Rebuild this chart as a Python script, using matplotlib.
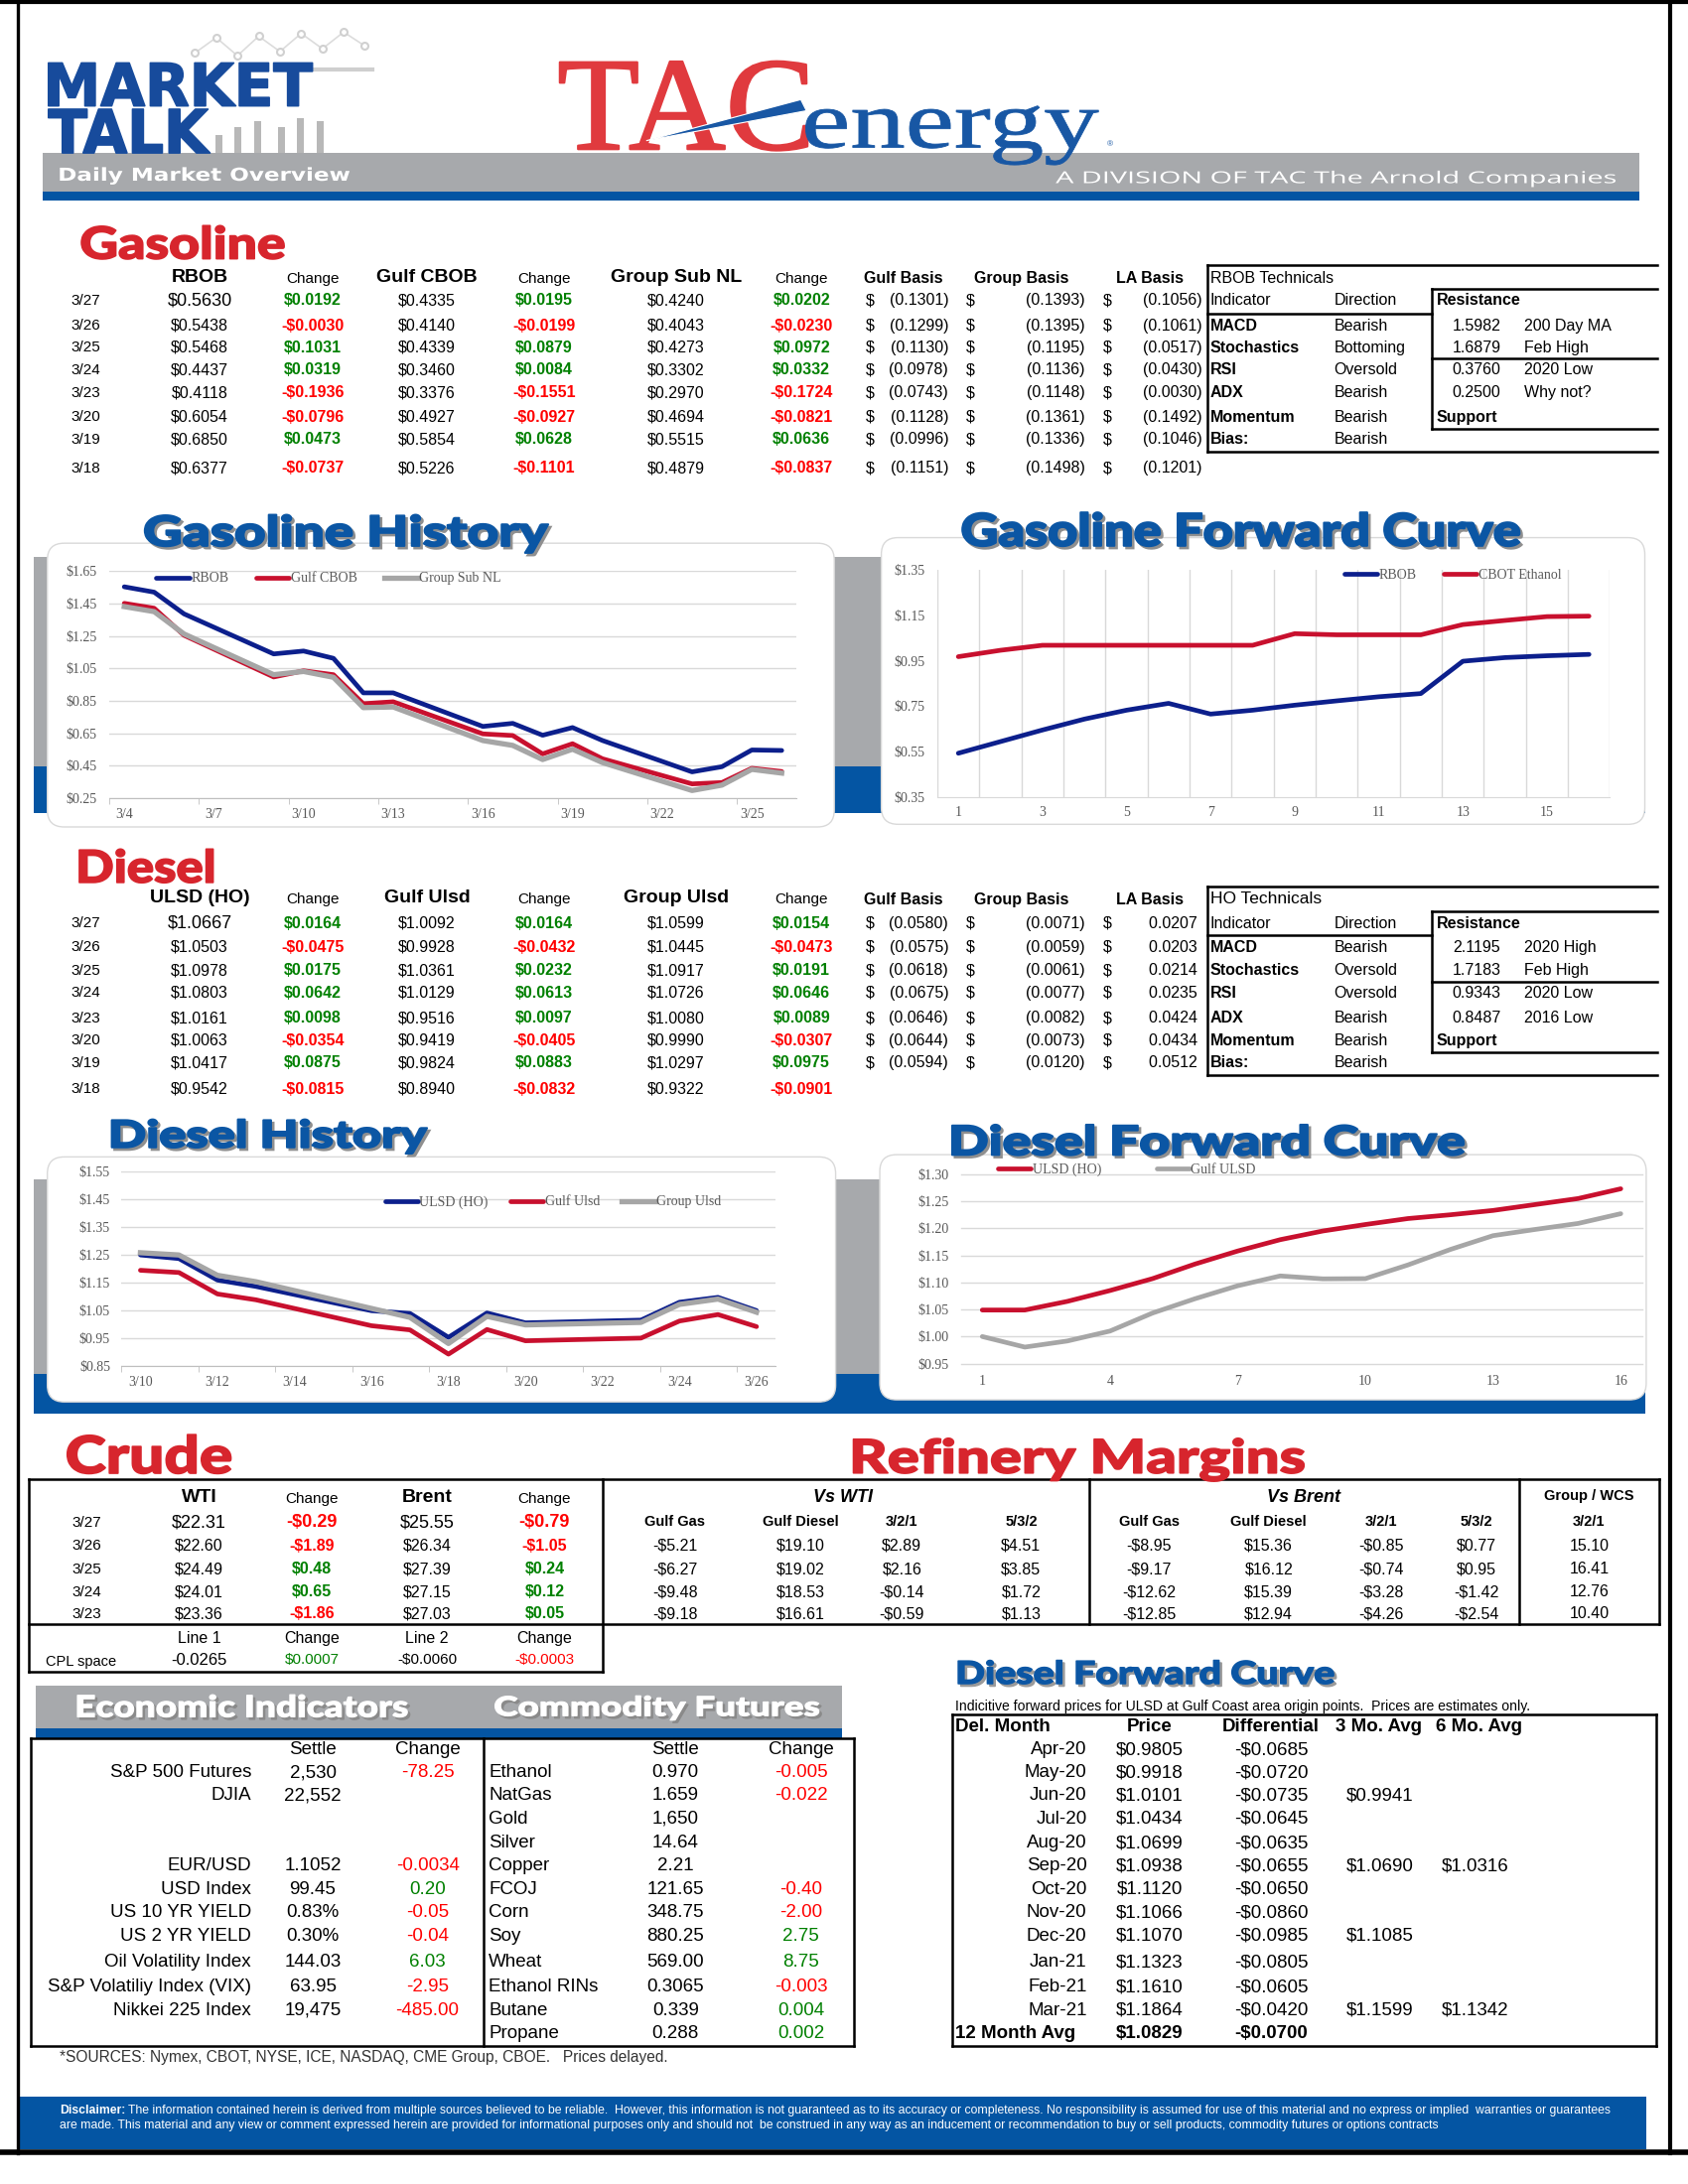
import numpy as np
import pandas as pd
import matplotlib
matplotlib.use('Agg')
import matplotlib.pyplot as plt
import matplotlib.dates as mdates
from matplotlib.patches import Rectangle, FancyBboxPatch, PathPatch, Polygon
from matplotlib.textpath import TextPath
from matplotlib.transforms import Affine2D
from matplotlib.font_manager import FontProperties
from matplotlib.ticker import FuncFormatter

# ---------------------------------------------------------------- data
gas_dates = ['3/27', '3/26', '3/25', '3/24', '3/23', '3/20', '3/19', '3/18']
rbob_px = [0.5630, 0.5438, 0.5468, 0.4437, 0.4118, 0.6054, 0.6850, 0.6377]
rbob_chg = [0.0192, -0.0030, 0.1031, 0.0319, -0.1936, -0.0796, 0.0473, -0.0737]
cbob_px = [0.4335, 0.4140, 0.4339, 0.3460, 0.3376, 0.4927, 0.5854, 0.5226]
cbob_chg = [0.0195, -0.0199, 0.0879, 0.0084, -0.1551, -0.0927, 0.0628, -0.1101]
subnl_px = [0.4240, 0.4043, 0.4273, 0.3302, 0.2970, 0.4694, 0.5515, 0.4879]
subnl_chg = [0.0202, -0.0230, 0.0972, 0.0332, -0.1724, -0.0821, 0.0636, -0.0837]
gas_gulf_basis = [-0.1301, -0.1299, -0.1130, -0.0978, -0.0743, -0.1128, -0.0996, -0.1151]
gas_group_basis = [-0.1393, -0.1395, -0.1195, -0.1136, -0.1148, -0.1361, -0.1336, -0.1498]
gas_la_basis = [-0.1056, -0.1061, -0.0517, -0.0430, -0.0030, -0.1492, -0.1046, -0.1201]

dsl_dates = gas_dates
ulsd_px = [1.0667, 1.0503, 1.0978, 1.0803, 1.0161, 1.0063, 1.0417, 0.9542]
ulsd_chg = [0.0164, -0.0475, 0.0175, 0.0642, 0.0098, -0.0354, 0.0875, -0.0815]
gulf_ulsd_px = [1.0092, 0.9928, 1.0361, 1.0129, 0.9516, 0.9419, 0.9824, 0.8940]
gulf_ulsd_chg = [0.0164, -0.0432, 0.0232, 0.0613, 0.0097, -0.0405, 0.0883, -0.0832]
grp_ulsd_px = [1.0599, 1.0445, 1.0917, 1.0726, 1.0080, 0.9990, 1.0297, 0.9322]
grp_ulsd_chg = [0.0154, -0.0473, 0.0191, 0.0646, 0.0089, -0.0307, 0.0975, -0.0901]
dsl_gulf_basis = [-0.0580, -0.0575, -0.0618, -0.0675, -0.0646, -0.0644, -0.0594]
dsl_group_basis = [-0.0071, -0.0059, -0.0061, -0.0077, -0.0082, -0.0073, -0.0120]
dsl_la_basis = [0.0207, 0.0203, 0.0214, 0.0235, 0.0424, 0.0434, 0.0512]

tech_ind = ['MACD', 'Stochastics', 'RSI', 'ADX', 'Momentum', 'Bias:']
rbob_dir = ['Bearish', 'Bottoming', 'Oversold', 'Bearish', 'Bearish', 'Bearish']
rbob_levels = [1.5982, 1.6879, 0.3760, 0.2500]
rbob_level_lbl = ['200 Day MA', 'Feb High', '2020 Low', 'Why not?']
ho_dir = ['Bearish', 'Oversold', 'Oversold', 'Bearish', 'Bearish', 'Bearish']
ho_levels = [2.1195, 1.7183, 0.9343, 0.8487]
ho_level_lbl = ['2020 High', 'Feb High', '2020 Low', '2016 Low']

gh_dates = pd.to_datetime(['2020-03-04', '2020-03-05', '2020-03-06', '2020-03-09', '2020-03-10',
                           '2020-03-11', '2020-03-12', '2020-03-13', '2020-03-16', '2020-03-17',
                           '2020-03-18', '2020-03-19', '2020-03-20', '2020-03-23', '2020-03-24',
                           '2020-03-25', '2020-03-26'])
gh_rbob = [1.553, 1.520, 1.386, 1.139, 1.157, 1.112, 0.899, 0.899, 0.692, 0.711,
           0.6377, 0.6850, 0.6054, 0.4118, 0.4437, 0.5468, 0.5438]
gh_cbob = [1.451, 1.421, 1.254, 0.997, 1.035, 1.011, 0.832, 0.844, 0.646, 0.636,
           0.5226, 0.5854, 0.4927, 0.3376, 0.3460, 0.4339, 0.4140]
gh_subnl = [1.431, 1.400, 1.262, 1.011, 1.031, 0.995, 0.808, 0.812, 0.605, 0.575,
            0.4879, 0.5515, 0.4694, 0.2970, 0.3302, 0.4273, 0.4043]

gf_month = np.arange(1, 17)
gf_rbob = [0.544, 0.595, 0.646, 0.694, 0.733, 0.763, 0.716, 0.733,
           0.755, 0.774, 0.792, 0.806, 0.948, 0.964, 0.972, 0.978]
gf_ethanol = [0.968, 0.996, 1.018, 1.018, 1.018, 1.018, 1.018, 1.018,
              1.069, 1.064, 1.064, 1.064, 1.109, 1.127, 1.144, 1.146]

dh_dates = pd.to_datetime(['2020-03-10', '2020-03-11', '2020-03-12', '2020-03-13', '2020-03-16',
                           '2020-03-17', '2020-03-18', '2020-03-19', '2020-03-20', '2020-03-23',
                           '2020-03-24', '2020-03-25', '2020-03-26'])
dh_ulsd = [1.250, 1.237, 1.160, 1.137, 1.050, 1.040, 0.9542, 1.0417, 1.0063, 1.0161, 1.0803, 1.0978, 1.0503]
dh_gulf = [1.195, 1.187, 1.110, 1.089, 0.996, 0.981, 0.8940, 0.9824, 0.9419, 0.9516, 1.0129, 1.0361, 0.9928]
dh_group = [1.258, 1.250, 1.177, 1.154, 1.058, 1.026, 0.9322, 1.0297, 0.9990, 1.0080, 1.0726, 1.0917, 1.0445]

df_month = np.arange(1, 17)
df_ulsd = [1.049, 1.049, 1.065, 1.085, 1.107, 1.134, 1.158, 1.179,
           1.195, 1.207, 1.218, 1.225, 1.233, 1.244, 1.255, 1.273]
df_gulf = [1.000, 0.9805, 0.9918, 1.0101, 1.0434, 1.0699, 1.0938, 1.1120,
           1.1066, 1.1070, 1.1323, 1.1610, 1.1864, 1.198, 1.209, 1.227]

crude_dates = ['3/27', '3/26', '3/25', '3/24', '3/23']
wti = [22.31, 22.60, 24.49, 24.01, 23.36]
wti_chg = [-0.29, -1.89, 0.48, 0.65, -1.86]
brent = [25.55, 26.34, 27.39, 27.15, 27.03]
brent_chg = [-0.79, -1.05, 0.24, 0.12, 0.05]
cpl_line1, cpl_line1_chg, cpl_line2, cpl_line2_chg = -0.0265, 0.0007, -0.0060, -0.0003

rm_cols = ['Gulf Gas', 'Gulf Diesel', '3/2/1', '5/3/2']
rm_wti = [[-5.21, -6.27, -9.48, -9.18], [19.10, 19.02, 18.53, 16.61],
          [2.89, 2.16, -0.14, -0.59], [4.51, 3.85, 1.72, 1.13]]
rm_brent = [[-8.95, -9.17, -12.62, -12.85], [15.36, 16.12, 15.39, 12.94],
            [-0.85, -0.74, -3.28, -4.26], [0.77, 0.95, -1.42, -2.54]]
rm_wcs = [15.10, 16.41, 12.76, 10.40]

econ_names = ['S&P 500 Futures', 'DJIA', '', '', 'EUR/USD', 'USD Index', 'US 10 YR YIELD',
              'US 2 YR YIELD', 'Oil Volatility Index', 'S&P Volatiliy Index (VIX)', 'Nikkei 225 Index']
econ_settle = ['2,530', '22,552', '', '', '1.1052', '99.45', '0.83%', '0.30%', '144.03', '63.95', '19,475']
econ_chg = ['-78.25', '', '', '', '-0.0034', '0.20', '-0.05', '-0.04', '6.03', '-2.95', '-485.00']
comm_names = ['Ethanol', 'NatGas', 'Gold', 'Silver', 'Copper', 'FCOJ', 'Corn', 'Soy', 'Wheat',
              'Ethanol RINs', 'Butane', 'Propane']
comm_settle = ['0.970', '1.659', '1,650', '14.64', '2.21', '121.65', '348.75', '880.25', '569.00',
               '0.3065', '0.339', '0.288']
comm_chg = ['-0.005', '-0.022', '', '', '', '-0.40', '-2.00', '2.75', '8.75', '-0.003', '0.004', '0.002']

fwd_months = ['Apr-20', 'May-20', 'Jun-20', 'Jul-20', 'Aug-20', 'Sep-20', 'Oct-20', 'Nov-20',
              'Dec-20', 'Jan-21', 'Feb-21', 'Mar-21']
fwd_price = [0.9805, 0.9918, 1.0101, 1.0434, 1.0699, 1.0938, 1.1120, 1.1066, 1.1070, 1.1323, 1.1610, 1.1864]
fwd_diff = [-0.0685, -0.0720, -0.0735, -0.0645, -0.0635, -0.0655, -0.0650, -0.0860, -0.0985,
            -0.0805, -0.0605, -0.0420]
fwd_3mo = {2: 0.9941, 5: 1.0690, 8: 1.1085, 11: 1.1599}
fwd_6mo = {5: 1.0316, 11: 1.1342}
fwd_avg_price, fwd_avg_diff = 1.0829, -0.0700

# ---------------------------------------------------------------- style
W, H = 1212, 1568           # layout grid, page is 1700x2200 px
SANS = ['Liberation Sans', 'DejaVu Sans']
SERIF = ['Liberation Serif', 'DejaVu Serif']
plt.rcParams['font.family'] = SERIF
RED_T = '#d7252d'
BLUE_T = '#0b56a4'
NAVY = '#0c1f8c'
LRED = '#c8102e'
LGRAY = '#a6a6a6'
GREEN = '#008000'
BRIGHT_RED = '#ff0000'
BANNER_GRAY = '#a7a9ac'
BANNER_BLUE = '#0455a3'
HEAVY = FontProperties(family='Lato', weight='black')

fig = plt.figure(figsize=(17, 22), dpi=100)
bg = fig.add_axes([0, 0, 1, 1])
bg.set_xlim(0, W)
bg.set_ylim(H, 0)
bg.axis('off')
bg.set_zorder(0)
renderer = fig.canvas.get_renderer()


def R(x0, y0, x1, y1):
    return [x0 / W, 1 - y1 / H, (x1 - x0) / W, (y1 - y0) / H]


def txt(x, y, s, ha='center', size=11.5, weight='normal', color='black', style='normal', family=SANS):
    return bg.text(x, y, s, ha=ha, va='center', fontsize=size, fontweight=weight, color=color,
                   fontstyle=style, family=family, zorder=6)


def boxed(s, x0, x1, ytop, ybot, color, prop, shadow=None, stroke=0, z=5):
    tp = TextPath((0, 0), s, size=100, prop=prop)
    e = tp.get_extents()
    tr = Affine2D().translate(-e.x0, -e.y0).scale((x1 - x0) / e.width, -(ybot - ytop) / e.height)
    p = tr.translate(x0, ybot).transform_path(tp)
    if shadow:
        ps = Affine2D().translate(1.8, 1.8).transform_path(p)
        bg.add_patch(PathPatch(ps, fc=shadow, ec=shadow, lw=stroke, zorder=z - 0.5))
    bg.add_patch(PathPatch(p, fc=color, ec=color if stroke else 'none', lw=stroke,
                           joinstyle='round', zorder=z))


def hline(y, x0, x1, lw=1.8):
    bg.plot([x0, x1], [y, y], color='black', lw=lw, solid_capstyle='projecting', zorder=4)


def vline(x, y0, y1, lw=1.8):
    bg.plot([x, x], [y0, y1], color='black', lw=lw, solid_capstyle='projecting', zorder=4)


def money(v, nd=4):
    return ('$%.*f' % (nd, v)) if v >= 0 else ('-$%.*f' % (nd, -v))


def chg_color(v):
    return GREEN if v >= 0 else BRIGHT_RED


# ---------------------------------------------------------------- page frame and header
hline(1.5, 0, W, lw=3)
vline(12.5, 0, 1546, lw=2.4)
vline(1199, 0, 1546, lw=3)
hline(1545, 0, W, lw=4)

bg.add_patch(Rectangle((31, 110), 1146, 27.5, fc=BANNER_GRAY, ec='none', zorder=1))
bg.add_patch(Rectangle((31, 137.5), 1146, 6.3, fc=BANNER_BLUE, ec='none', zorder=1))

# MARKET TALK logo decoration
bg.plot([225, 267], [50, 50], color='#cfcfcf', lw=3, zorder=2)
for bx, btop in [(157, 97), (171, 91.5), (185, 87), (202, 91.5), (216, 84.5), (230, 87)]:
    bg.add_patch(Rectangle((bx - 2.5, btop), 5, 110 - btop, fc='#b8b8b8', ec='none', zorder=2))
zx = np.linspace(140, 262, 9)
zy = [38, 27, 40, 26, 37, 24, 35, 23, 33]
bg.plot(zx, zy, color='#dcdcdc', lw=1.2, marker='o', ms=5, mfc='white', mec='#d0d0d0', mew=1.5, zorder=2)
boxed('MARKET', 34.8, 224.3, 45.2, 76, '#174b9c', FontProperties(family='DejaVu Sans', weight='bold'), stroke=1.2)
boxed('TALK', 34.8, 150.8, 78.4, 109.8, '#174b9c', FontProperties(family='DejaVu Sans', weight='bold'), stroke=1.2)

boxed('TAC', 402, 580, 44, 108, '#e03a3e', FontProperties(family='Liberation Serif'), stroke=1.6)
boxed('energy', 578.5, 788.7, 76, 118.4, '#1857a4', FontProperties(family='Liberation Serif'), stroke=0.6)
bg.add_patch(Polygon([(464, 101), (575, 71.5), (579, 79.5)], closed=True, fc='#1857a4', ec='white',
                     lw=0.8, zorder=6))
txt(797, 104, '®', size=6, color='#1857a4')
boxed('Daily Market Overview', 43, 251, 120, 132.5, 'white', FontProperties(family='DejaVu Sans', weight='bold'))
boxed('A DIVISION OF TAC The Arnold Companies', 758, 1160, 122.5, 134.3, 'white',
      FontProperties(family='Open Sans'))

# ---------------------------------------------------------------- price tables
PX_X = [143.3, 306.6, 485.6]
CH_X = [224.4, 390.7, 575.5]
BASIS_HDR_X = [648.6, 733.2, 825.6]
BASIS_DOLLAR_X = [621.4, 693.3, 792]
BASIS_RIGHT_X = [681, 779, 863]


def price_block(header_y, rows_y, dates, names, prices, changes, basis, tech_title, directions,
                levels, level_lbl, tech_size):
    for x, n in zip(PX_X, names):
        txt(x, header_y, n, size=14, weight='bold')
    for x in CH_X:
        txt(x, header_y + 1, 'Change', size=11)
    for x, n in zip(BASIS_HDR_X, ['Gulf Basis', 'Group Basis', 'LA Basis']):
        txt(x, header_y + 1, n, size=11.5, weight='bold')
    for i, (d, y) in enumerate(zip(dates, rows_y)):
        txt(51, y, d, ha='left', size=11)
        for x, col in zip(PX_X, prices):
            if i == 0 and x == PX_X[0]:
                txt(x, y, money(col[i]), size=13)
            else:
                txt(x, y, money(col[i]), size=11.5)
        for x, col in zip(CH_X, changes):
            txt(x, y, money(col[i]), size=11.5, weight='bold', color=chg_color(col[i]))
    for k, col in enumerate(basis):
        for v, y in zip(col, rows_y):
            txt(BASIS_DOLLAR_X[k], y, '$', ha='left', size=11.5)
            s = '(%.4f)' % -v if v < 0 else '%.4f ' % v
            txt(BASIS_RIGHT_X[k], y, s, ha='right', size=11.5)
    # technicals box
    xl, xr, xres = 866.7, 1190, 1027.8
    top = header_y - 8.8
    res_top = (header_y + rows_y[0]) / 2
    ind_line = (rows_y[0] + rows_y[1]) / 2
    sep = (rows_y[2] + rows_y[3]) / 2
    res_bot = rows_y[5] + 8.2
    bot = rows_y[6] + 8.8
    hline(top, xl, xr)
    vline(xl, top, bot)
    hline(bot, xl, xr)
    hline(res_top, xres, xr)
    vline(xres, res_top, res_bot)
    hline(res_bot, xres, xr)
    hline(sep, xres, xr)
    hline(ind_line, xl, xres)
    txt(869, header_y + 0.5, tech_title, ha='left', size=tech_size)
    txt(869, rows_y[0], 'Indicator', ha='left', size=11.5)
    txt(958, rows_y[0], 'Direction', ha='left', size=11.5)
    txt(1031.5, rows_y[0], 'Resistance', ha='left', size=11.5, weight='bold')
    for j, (ind, dr) in enumerate(zip(tech_ind, directions)):
        txt(869, rows_y[j + 1], ind, ha='left', size=11.5, weight='bold')
        txt(958, rows_y[j + 1], dr, ha='left', size=11.5)
    for j, (lv, lb) in enumerate(zip(levels, level_lbl)):
        txt(1077.5, rows_y[j + 1], '%.4f' % lv, ha='right', size=11.5)
        txt(1094.2, rows_y[j + 1], lb, ha='left', size=11.5)
    txt(1031.5, rows_y[5], 'Support', ha='left', size=11.5, weight='bold')


boxed('Gasoline', 58.5, 204, 162, 186, RED_T, HEAVY, stroke=1.2)
price_block(199.2, [215.8, 234, 249.5, 265.5, 282, 299.5, 315.6, 336.3], gas_dates,
            ['RBOB', 'Gulf CBOB', 'Group Sub NL'], [rbob_px, cbob_px, subnl_px],
            [rbob_chg, cbob_chg, subnl_chg], [gas_gulf_basis, gas_group_basis, gas_la_basis],
            'RBOB Technicals', rbob_dir, rbob_levels, rbob_level_lbl, 11.5)

boxed('Diesel', 57, 153, 609.6, 633.8, RED_T, HEAVY, stroke=1.2)
price_block(645, [663, 680, 697, 713, 731, 747, 763, 782], dsl_dates,
            ['ULSD (HO)', 'Gulf Ulsd', 'Group Ulsd'], [ulsd_px, gulf_ulsd_px, grp_ulsd_px],
            [ulsd_chg, gulf_ulsd_chg, grp_ulsd_chg], [dsl_gulf_basis, dsl_group_basis, dsl_la_basis],
            'HO Technicals', ho_dir, ho_levels, ho_level_lbl, 12.5)

# ---------------------------------------------------------------- chart bands & panels
for (gy0, gy1, by1) in [(400, 550, 583.4), (847, 986.3, 1015)]:
    bg.add_patch(Rectangle((24, gy0), 1157, gy1 - gy0, fc=BANNER_GRAY, ec='none', zorder=1))
    bg.add_patch(Rectangle((24, gy1), 1157, by1 - gy1, fc=BANNER_BLUE, ec='none', zorder=1))
for (px0, py0, px1, py1) in [(34, 390, 599, 593.7), (632.8, 386, 1181, 591.8),
                             (34, 830.6, 600, 1006.5), (631.7, 829, 1182, 1005)]:
    bg.add_patch(FancyBboxPatch((px0, py0), px1 - px0, py1 - py0, boxstyle='round,pad=0,rounding_size=12',
                                fc='white', ec='#d9d9d9', lw=1, zorder=2))

boxed('Gasoline History', 104, 393.6, 369.6, 396.9, BLUE_T, HEAVY, shadow='#8f8f8f', stroke=1.5)
boxed('Gasoline Forward Curve', 691, 1091, 367.9, 392.1, BLUE_T, HEAVY, shadow='#8f8f8f', stroke=1.5)
boxed('Diesel History', 80.3, 306.6, 803.7, 828.2, BLUE_T, HEAVY, shadow='#8f8f8f', stroke=1.5)
boxed('Diesel Forward Curve', 683.7, 1051, 807.5, 829.4, BLUE_T, HEAVY, shadow='#8f8f8f', stroke=1.5)

LEG_FONT = FontProperties(family=SERIF, size=10)
dollar_fmt = FuncFormatter(lambda v, p: '$%.2f' % v)
md_fmt = FuncFormatter(lambda v, p: '%d/%d' % (mdates.num2date(v).month, mdates.num2date(v).day))


def chart_axes(box, ylim, ystep):
    ax = fig.add_axes(R(*box))
    ax.set_zorder(1)
    ax.set_facecolor('none')
    ax.set_ylim(*ylim)
    ax.set_yticks(np.arange(ylim[0], ylim[1] + ystep / 2, ystep))
    ax.yaxis.set_major_formatter(dollar_fmt)
    for s in ['top', 'right', 'left']:
        ax.spines[s].set_visible(False)
    ax.spines['bottom'].set_color('#bfbfbf')
    ax.tick_params(axis='y', length=0, pad=9, labelsize=10, labelcolor='#595959')
    ax.tick_params(axis='x', which='major', length=0, pad=7, labelsize=10, labelcolor='#595959')
    ax.tick_params(axis='x', which='minor', length=4, color='#bfbfbf')
    ax.set_axisbelow(True)
    return ax


def legend_at(ax, box, x, y, spacing):
    fx = (x - box[0]) / (box[2] - box[0])
    fy = (box[3] - y) / (box[3] - box[1])
    ax.legend(loc='center', bbox_to_anchor=(fx, fy), ncol=3, frameon=False, prop=LEG_FONT,
              handlelength=2.4, handletextpad=0.1, columnspacing=spacing, labelcolor='#595959')


LINE = dict(lw=3.4, solid_joinstyle='round', solid_capstyle='round')

# Gasoline history
b1 = (78.5, 410, 572, 573)
ax1 = chart_axes(b1, (0.25, 1.65), 0.20)
ax1.plot(gh_dates, gh_rbob, color=NAVY, label='RBOB', **LINE)
ax1.plot(gh_dates, gh_cbob, color=LRED, label='Gulf CBOB', **LINE)
ax1.plot(gh_dates, gh_subnl, color=LGRAY, label='Group Sub NL', lw=3.8, solid_joinstyle='round')
ax1.set_xlim(pd.Timestamp('2020-03-03 12:00'), pd.Timestamp('2020-03-26 12:00'))
ax1.set_xticks(mdates.date2num(pd.date_range('2020-03-04', '2020-03-25', freq='3D')))
ax1.set_xticks(mdates.date2num(pd.date_range('2020-03-03 12:00', '2020-03-25', freq='3D')), minor=True)
ax1.xaxis.set_major_formatter(md_fmt)
ax1.yaxis.grid(True, color='#d9d9d9', lw=1)
legend_at(ax1, b1, 236, 415.5, 2.0)

# Gasoline forward curve
b2 = (673, 409, 1156, 572.5)
ax2 = chart_axes(b2, (0.35, 1.35), 0.20)
ax2.plot(gf_month, gf_rbob, color=NAVY, label='RBOB', **LINE)
ax2.plot(gf_month, gf_ethanol, color=LRED, label='CBOT Ethanol', **LINE)
ax2.set_xlim(0.5, 16.5)
ax2.set_xticks(np.arange(1, 17, 2))
ax2.set_xticks(np.arange(0.5, 17, 1), minor=True)
ax2.tick_params(axis='x', which='minor', length=0)
ax2.xaxis.grid(True, which='minor', color='#d9d9d9', lw=1)
ax2.spines['bottom'].set_color('#d9d9d9')
ax2.tick_params(axis='x', which='major', pad=6)
legend_at(ax2, b2, 1043, 413, 2.0)

# Diesel history
b3 = (87, 841, 557, 981)
ax3 = chart_axes(b3, (0.85, 1.55), 0.10)
ax3.plot(dh_dates, dh_ulsd, color=NAVY, label='ULSD (HO)', **LINE)
ax3.plot(dh_dates, dh_gulf, color=LRED, label='Gulf Ulsd', **LINE)
ax3.plot(dh_dates, dh_group, color=LGRAY, label='Group Ulsd', lw=3.8, solid_joinstyle='round')
ax3.set_xlim(pd.Timestamp('2020-03-09 12:00'), pd.Timestamp('2020-03-26 12:00'))
ax3.set_xticks(mdates.date2num(pd.date_range('2020-03-10', '2020-03-26', freq='2D')))
ax3.set_xticks(mdates.date2num(pd.date_range('2020-03-09 12:00', '2020-03-26', freq='2D')), minor=True)
ax3.xaxis.set_major_formatter(md_fmt)
ax3.yaxis.grid(True, color='#d9d9d9', lw=1)
ax3.tick_params(axis='y', pad=8)
legend_at(ax3, b3, 397, 863, 1.6)

# Diesel forward curve
b4 = (690, 843, 1179, 979)
ax4 = chart_axes(b4, (0.95, 1.30), 0.05)
ax4.plot(df_month, df_ulsd, color=LRED, label='ULSD (HO)', **LINE)
ax4.plot(df_month, df_gulf, color=LGRAY, label='Gulf ULSD', **LINE)
ax4.set_xlim(0.5, 16.5)
ax4.set_xticks([1, 4, 7, 10, 13, 16])
ax4.spines['bottom'].set_visible(False)
ax4.yaxis.grid(True, color='#d9d9d9', lw=1, clip_on=False)
ax4.tick_params(axis='x', which='major', pad=8)
legend_at(ax4, b4, 809, 840, 4.0)

# ---------------------------------------------------------------- crude & refinery margins
boxed('Crude', 48.3, 165.8, 1030, 1058, RED_T, HEAVY, stroke=1.2)
boxed('Refinery Margins', 612.8, 936.3, 1032.6, 1063.5, RED_T, HEAVY, stroke=1.2)
hline(1062.3, 21, 1191)
vline(21, 1062.3, 1200)
vline(432.8, 1062.3, 1200)
hline(1165.7, 21, 1191)
hline(1200, 21, 432.8)
vline(782, 1062.3, 1165.7)
vline(1091, 1062.3, 1165.7)
vline(1191, 1062.3, 1165.7)

CR_X = [143, 224, 306.6, 391]
txt(CR_X[0], 1075, 'WTI', size=14, weight='bold')
txt(CR_X[1], 1076, 'Change', size=11)
txt(CR_X[2], 1075, 'Brent', size=14, weight='bold')
txt(CR_X[3], 1076, 'Change', size=11)
crude_y = [1093, 1110, 1126.5, 1143, 1158.6]
for i, (d, y) in enumerate(zip(crude_dates, crude_y)):
    big = 13 if i == 0 else 11.5
    txt(62.5, y, d, size=11)
    txt(CR_X[0], y, money(wti[i], 2), size=big)
    txt(CR_X[1], y, money(wti_chg[i], 2), size=big, weight='bold', color=chg_color(wti_chg[i]))
    txt(CR_X[2], y, money(brent[i], 2), size=big)
    txt(CR_X[3], y, money(brent_chg[i], 2), size=big, weight='bold', color=chg_color(brent_chg[i]))
for x, s in zip(CR_X, ['Line 1', 'Change', 'Line 2', 'Change']):
    txt(x, 1176.4, s, size=11.5)
txt(33, 1193, 'CPL space', ha='left', size=10.5)
txt(CR_X[0], 1192, '%.4f' % cpl_line1, size=12)
txt(CR_X[1], 1192, money(cpl_line1_chg), size=11, color=chg_color(cpl_line1_chg))
txt(CR_X[2], 1192, money(cpl_line2), size=11)
txt(CR_X[3], 1192, money(cpl_line2_chg), size=11, color=chg_color(cpl_line2_chg))

RM_WTI_X = [484.5, 574.6, 647.6, 733.2]
RM_BRENT_X = [825, 911, 992, 1060]
txt(605, 1075, 'Vs WTI', size=13, weight='bold', style='italic')
txt(936, 1075, 'Vs Brent', size=13, weight='bold', style='italic')
txt(1141, 1074, 'Group / WCS', size=10.5, weight='bold')
txt(1141, 1092.7, '3/2/1', size=10.5, weight='bold')
rm_y = [1110, 1126.5, 1143, 1158.6]
for xs, block in [(RM_WTI_X, rm_wti), (RM_BRENT_X, rm_brent)]:
    for x, name, col in zip(xs, rm_cols, block):
        txt(x, 1092.7, name, size=10.5, weight='bold')
        for v, y in zip(col, rm_y):
            txt(x, y, money(v, 2), size=11.5)
for v, y in zip(rm_wcs, rm_y):
    txt(1141, y, '%.2f' % v, size=11.5)

# ---------------------------------------------------------------- economic indicators / commodities
bg.add_patch(Rectangle((25.6, 1210), 579, 31, fc=BANNER_GRAY, ec='none', zorder=1))
bg.add_patch(Rectangle((25.6, 1241), 579, 7, fc=BANNER_BLUE, ec='none', zorder=1))
boxed('Economic Indicators', 55.6, 292.5, 1216.7, 1232.8, 'white', HEAVY, shadow='#8a8a8a', stroke=0.8)
boxed('Commodity Futures', 355.4, 588, 1217.5, 1235, 'white', HEAVY, shadow='#8a8a8a', stroke=0.8)
hline(1248, 21.8, 612.8)
vline(21.8, 1248, 1469)
vline(612.8, 1248, 1469)
vline(347, 1248, 1469)
hline(1469, 21.8, 612.8)

ROWS = [1272.6, 1289.3, 1306, 1323.2, 1339.7, 1356.6, 1373.4, 1390, 1408.8, 1426.6, 1443.3, 1459.8]
ES = 13.5
for x, s in [(224.6, 'Settle'), (307, 'Change'), (485, 'Settle'), (575, 'Change')]:
    txt(x, 1256.5, s, size=ES)
for n, st, ch, y in zip(econ_names, econ_settle, econ_chg, ROWS):
    txt(180.4, y, n, ha='right', size=ES)
    txt(224.6, y, st, size=ES)
    if ch:
        txt(307, y, ch, size=ES, color=BRIGHT_RED if ch.startswith('-') else GREEN)
for n, st, ch, y in zip(comm_names, comm_settle, comm_chg, ROWS):
    txt(350.8, y, n, ha='left', size=ES)
    txt(485, y, st, size=ES)
    if ch:
        txt(575, y, ch, size=ES, color=BRIGHT_RED if ch.startswith('-') else GREEN)


def fit_text(x0, x1, y, s, size=10, **kw):
    t = bg.text(x0, y, s, ha='left', va='center', fontsize=size, zorder=6, **kw)
    w = t.get_window_extent(renderer).width
    t.set_fontsize(size * (x1 - x0) * 1700 / W / w)
    return t


fit_text(42.9, 482, 1477, '*SOURCES: Nymex, CBOT, NYSE, ICE, NASDAQ, CME Group, CBOE.   Prices delayed.',
         family=SANS, color='#333333')

# ---------------------------------------------------------------- diesel forward table
boxed('Diesel Forward Curve', 688, 957.6, 1192, 1209, BLUE_T, HEAVY, shadow='#9a9a9a', stroke=1.0)
fit_text(686, 1098.6, 1225.5, 'Indicitive forward prices for ULSD at Gulf Coast area origin points.  '
         'Prices are estimates only.', family=SANS)
hline(1230.7, 683.8, 1189)
vline(683.8, 1230.7, 1469)
vline(1189, 1230.7, 1469)
hline(1469, 683.8, 1189)
txt(686, 1240, 'Del. Month', ha='left', size=ES, weight='bold')
for x, s in [(825.6, 'Price'), (912.7, 'Differential'), (989.6, '3 Mo. Avg'), (1062, '6 Mo. Avg')]:
    txt(x, 1240, s, size=ES, weight='bold')
DROWS = [1256.5] + ROWS
for i, (m, pr, df) in enumerate(zip(fwd_months, fwd_price, fwd_diff)):
    y = DROWS[i]
    txt(780.4, y, m, ha='right', size=ES)
    txt(825.6, y, money(pr), size=ES)
    txt(912.7, y, money(df), size=ES)
    if i in fwd_3mo:
        txt(991, y, money(fwd_3mo[i]), size=ES)
    if i in fwd_6mo:
        txt(1059, y, money(fwd_6mo[i]), size=ES)
txt(686, DROWS[12], '12 Month Avg', ha='left', size=ES, weight='bold')
txt(825.6, DROWS[12], money(fwd_avg_price), size=ES, weight='bold')
txt(912.7, DROWS[12], money(fwd_avg_diff), size=ES, weight='bold')

# ---------------------------------------------------------------- disclaimer
bg.add_patch(Rectangle((14, 1505.6), 1168, 37.4, fc=BANNER_BLUE, ec='none', zorder=1))
line1 = ('The information contained herein is derived from multiple sources believed to be reliable.  '
         'However, this information is not guaranteed as to its accuracy or completeness. No responsibility '
         'is assumed for use of this material and no express or implied  warranties or guarantees')
line2 = ('are made. This material and any view or comment expressed herein are provided for informational '
         'purposes only and should not  be construed in any way as an inducement or recommendation to buy or '
         'sell products, commodity futures or options contracts')
fs = 8.0
for _ in range(2):
    d1 = bg.text(42.9, 1515.4, 'Disclaimer:', fontsize=fs, fontweight='bold', color='white',
                 family=SANS, va='center', zorder=6)
    w1 = d1.get_window_extent(renderer).width * W / 1700
    d2 = bg.text(42.9 + w1 + 2, 1515.4, line1, fontsize=fs, color='white', family=SANS, va='center', zorder=6)
    wt = d2.get_window_extent(renderer).width * W / 1700 + w1 + 2
    if _ == 0:
        fs = fs * (1167.6 - 42.9) / wt
        d1.remove()
        d2.remove()
bg.text(42.9, 1525.8, line2, fontsize=fs, color='white', family=SANS, va='center', zorder=6)

fig.savefig('out.png', dpi=100)
